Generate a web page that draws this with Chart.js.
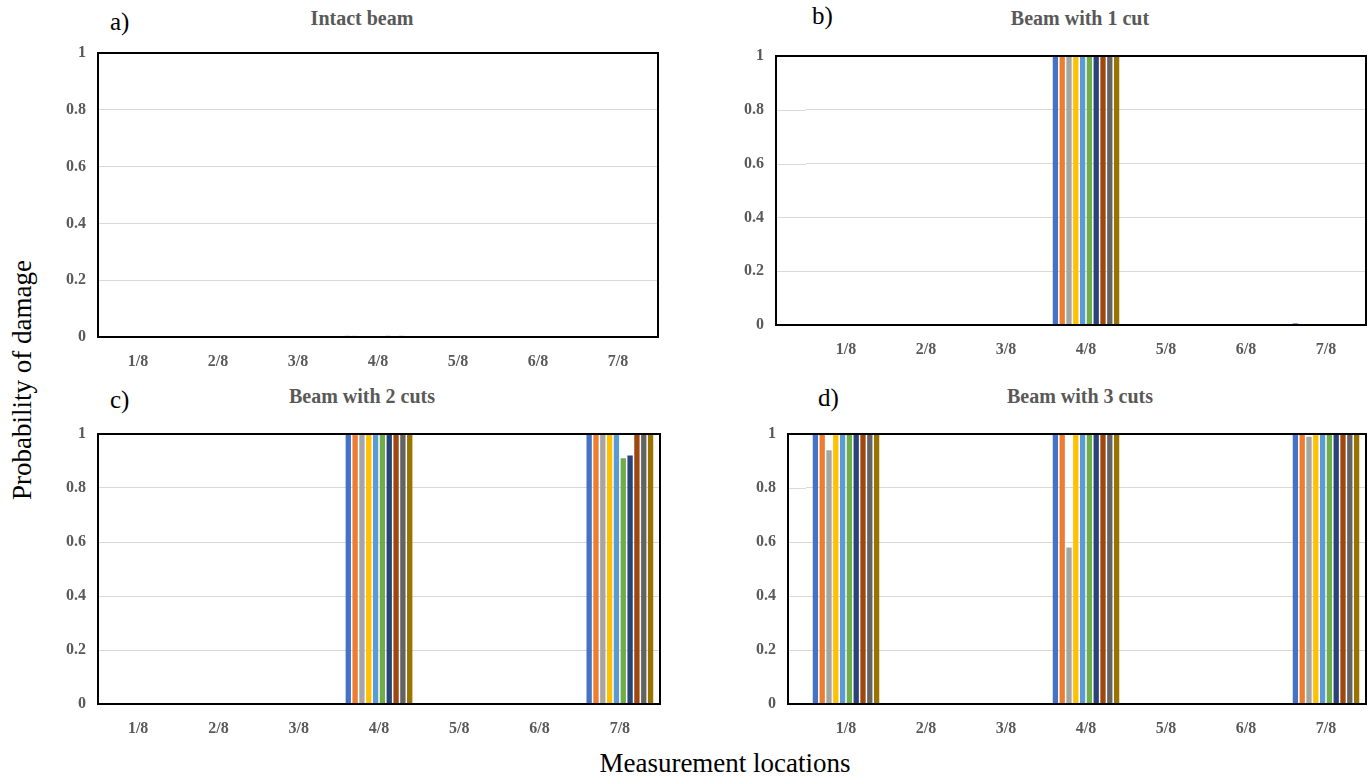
<!DOCTYPE html>
<html>
<head>
<meta charset="utf-8">
<script src="https://cdn.jsdelivr.net/npm/chart.js@4"></script>
<style>
  body { margin: 0; background: #fff; width: 1369px; height: 778px; position: relative; overflow: hidden; }
  .painel { position: absolute; }
  .titulo { position: absolute; font-family: 'Liberation Serif', serif; font-weight: bold; font-size: 20px; color: #595959; transform: translateX(-50%); white-space: nowrap; }
  .letra { position: absolute; font-family: 'Liberation Serif', serif; font-size: 25px; color: #000; }
  .eixo { position: absolute; font-family: 'Liberation Serif', serif; font-size: 27px; color: #000; white-space: nowrap; }
</style>
</head>
<body>

<div class="letra" style="left:110px; top:8px;">a)</div>
<div class="letra" style="left:812px; top:2px;">b)</div>
<div class="letra" style="left:110px; top:386px;">c)</div>
<div class="letra" style="left:818px; top:384px;">d)</div>

<div class="titulo" style="left:362px; top:7px;">Intact beam</div>
<div class="titulo" style="left:1080px; top:7px;">Beam with 1 cut</div>
<div class="titulo" style="left:362px; top:385px;">Beam with 2 cuts</div>
<div class="titulo" style="left:1080px; top:385px;">Beam with 3 cuts</div>

<div class="eixo" style="left:22px; top:380px; transform: translate(-50%,-50%) rotate(-90deg);">Probability of damage</div>
<div class="eixo" style="left:725px; top:763px; transform: translate(-50%,-50%);">Measurement locations</div>

<div class="painel" id="pa"><canvas id="cA"></canvas></div>
<div class="painel" id="pb"><canvas id="cB"></canvas></div>
<div class="painel" id="pc"><canvas id="cC"></canvas></div>
<div class="painel" id="pd"><canvas id="cD"></canvas></div>

<script>
// categorias e ticks
const locais   = ['1/8', '2/8', '3/8', '4/8', '5/8', '6/8', '7/8'];
const ticksY   = [0, 0.2, 0.4, 0.6, 0.8, 1];
const cores    = ['#4472C4', '#ED7D31', '#A5A5A5', '#FFC000', '#5B9BD5',
                  '#70AD47', '#264478', '#9E480E', '#636363', '#997300'];

// uma linha por serie (10 series), uma coluna por local
const vigaIntacta = [
  [0, 0, 0, 0.004, 0, 0, 0],
  [0, 0, 0, 0.004, 0, 0, 0],
  [0, 0, 0, 0, 0, 0, 0],
  [0, 0, 0, 0, 0, 0, 0],
  [0, 0, 0, 0, 0, 0, 0],
  [0, 0, 0, 0, 0, 0, 0],
  [0, 0, 0, 0.004, 0, 0, 0],
  [0, 0, 0, 0, 0, 0, 0],
  [0, 0, 0, 0.004, 0, 0, 0],
  [0, 0, 0, 0, 0, 0, 0]
];
const umCorte = [
  [0, 0, 0, 1, 0, 0, 0.006],
  [0, 0, 0, 1, 0, 0, 0],
  [0, 0, 0, 1, 0, 0, 0],
  [0, 0, 0, 1, 0, 0, 0],
  [0, 0, 0, 1, 0, 0, 0],
  [0, 0, 0, 1, 0, 0, 0],
  [0, 0, 0, 1, 0, 0, 0],
  [0, 0, 0, 1, 0, 0, 0],
  [0, 0, 0, 1, 0, 0, 0],
  [0, 0, 0, 1, 0, 0, 0]
];
const doisCortes = [
  [0, 0, 0, 1, 0, 0, 1],
  [0, 0, 0, 1, 0, 0, 1],
  [0, 0, 0, 1, 0, 0, 1],
  [0, 0, 0, 1, 0, 0, 1],
  [0, 0, 0, 1, 0, 0, 1],
  [0, 0, 0, 1, 0, 0, 0.91],
  [0, 0, 0, 1, 0, 0, 0.92],
  [0, 0, 0, 1, 0, 0, 1],
  [0, 0, 0, 1, 0, 0, 1],
  [0, 0, 0, 1, 0, 0, 1]
];
const tresCortes = [
  [1, 0, 0, 1, 0, 0, 1],
  [1, 0, 0, 1, 0, 0, 1],
  [0.94, 0, 0, 0.58, 0, 0, 0.99],
  [1, 0, 0, 1, 0, 0, 1],
  [1, 0, 0, 1, 0, 0, 1],
  [1, 0, 0, 1, 0, 0, 1],
  [1, 0, 0, 1, 0, 0, 1],
  [1, 0, 0, 1, 0, 0, 1],
  [1, 0, 0, 1, 0, 0, 1],
  [1, 0, 0, 1, 0, 0, 1]
];

Chart.defaults.font.family = "'Liberation Serif', serif";

// moldura preta em volta da area do grafico (pode comecar um pouco a esquerda)
const moldura = {
  id: 'moldura',
  beforeDatasetsDraw(chart, args, opts) {
    const ext = opts.ext || 0;
    if (!ext) return;
    const a = chart.chartArea, ctx = chart.ctx, y = chart.scales.y;
    ctx.save();
    ctx.strokeStyle = '#d9d9d9';
    ctx.lineWidth = 1;
    ticksY.forEach(v => {
      const py = Math.round(y.getPixelForValue(v)) + 0.5;
      ctx.beginPath();
      ctx.moveTo(a.left - ext, py);
      ctx.lineTo(a.left, py);
      ctx.stroke();
    });
    ctx.restore();
  },
  afterDatasetsDraw(chart, args, opts) {
    const ext = opts.ext || 0;
    const a = chart.chartArea;
    const ctx = chart.ctx;
    ctx.save();
    ctx.strokeStyle = '#000';
    ctx.lineWidth = 2;
    ctx.strokeRect(a.left - ext, a.top, a.right - a.left + ext, a.bottom - a.top);
    ctx.restore();
  }
};

const LARG_Y = 45, ALT_X = 32, EXTRA_TOP = 20, PAD_DIR = 4;

function montarPainel(idDiv, idCanvas, dados, area, ext) {
  const larg = LARG_Y + ext;
  const div = document.getElementById(idDiv);
  div.style.left   = (area.left - larg) + 'px';
  div.style.top    = (area.top - EXTRA_TOP) + 'px';
  div.style.width  = (area.right - area.left + larg + PAD_DIR) + 'px';
  div.style.height = (area.bottom - area.top + EXTRA_TOP + ALT_X) + 'px';

  new Chart(document.getElementById(idCanvas), {
    type: 'bar',
    data: {
      labels: locais,
      datasets: dados.map((serie, i) => ({
        label: 'S' + (i + 1),
        data: serie,
        backgroundColor: cores[i],
        categoryPercentage: 0.85,
        barPercentage: 0.78
      }))
    },
    options: {
      responsive: true,
      maintainAspectRatio: false,
      animation: false,
      layout: { padding: { top: 0, right: PAD_DIR, left: 0, bottom: 0 } },
      plugins: {
        legend: { display: false },
        tooltip: { enabled: false },
        moldura: { ext: ext }
      },
      scales: {
        x: {
          grid: { display: false },
          border: { display: false },
          ticks: { color: '#595959', font: { size: 16, weight: 'bold' }, padding: 7 },
          afterFit(s) { s.height = ALT_X; }
        },
        y: {
          min: 0, max: 1,
          afterBuildTicks(s) { s.ticks = ticksY.map(v => ({ value: v })); },
          grid: { color: '#d9d9d9', drawTicks: false },
          border: { display: false },
          ticks: {
            color: '#595959', font: { size: 16, weight: 'bold' }, padding: 12 + ext,
            callback: v => String(Number(v.toFixed(1)))
          },
          afterFit(s) {
            s.width = larg;
            s.paddingTop = EXTRA_TOP;
            s.paddingBottom = 0;
          }
        }
      }
    },
    plugins: [moldura]
  });
}

montarPainel('pa', 'cA', vigaIntacta, { left: 98,  top: 53,  right: 658,  bottom: 337 }, 0);
montarPainel('pb', 'cB', umCorte,     { left: 806, top: 56,  right: 1366, bottom: 325 }, 30);
montarPainel('pc', 'cC', doisCortes,  { left: 98,  top: 434, right: 660,  bottom: 704 }, 0);
montarPainel('pd', 'cD', tresCortes,  { left: 806, top: 434, right: 1366, bottom: 704 }, 18);
</script>
</body>
</html>
